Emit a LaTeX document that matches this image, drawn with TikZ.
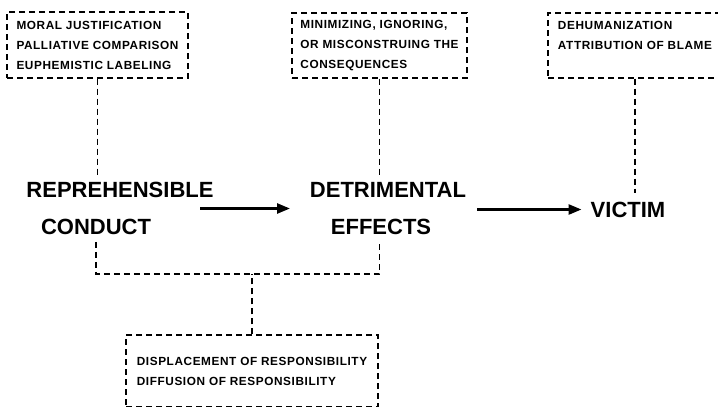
\documentclass[tikz,border=0pt]{standalone}
\usepackage{fontspec}
\setmainfont{Liberation Sans}
\newfontfamily\boxfont[LetterSpace=5]{Liberation Sans}
\usetikzlibrary{arrows.meta}

\begin{document}
\begin{tikzpicture}[x=1pt,y=-1pt,
  note/.style={draw, dash pattern=on 6pt off 4pt, line width=1.2pt,
    align=left, inner sep=0pt,
    font=\boxfont\bfseries\fontsize{11.8}{20}\selectfont},
  term/.style={inner sep=0pt, font=\bfseries\fontsize{22}{22}\selectfont},
  link/.style={dash pattern=on 6pt off 4pt, line width=1.2pt},
  flow/.style={-{Triangle[length=13pt,width=10pt]}, line width=2.6pt}]
\useasboundingbox (0,0) rectangle (718,407);
\clip (0,0) rectangle (718,407);

% mechanisms acting on each stage
\node[note, minimum width=181pt, minimum height=66pt] (just) at (97.5,45)
  {MORAL JUSTIFICATION\\PALLIATIVE COMPARISON\\EUPHEMISTIC LABELING};
\node[note, minimum width=175pt, minimum height=65pt] (harm) at (379.5,45.5)
  {MINIMIZING, IGNORING,\\OR MISCONSTRUING THE\\CONSEQUENCES};
\node[note, minimum width=174pt, minimum height=65pt] (blame) at (635,45.5)
  {DEHUMANIZATION\\ATTRIBUTION OF BLAME\\\mbox{}};
\node[note, minimum width=252pt, minimum height=72pt] (resp) at (252,371)
  {DISPLACEMENT OF RESPONSIBILITY\\DIFFUSION OF RESPONSIBILITY};

% the three stages
\node[term] (repr) at (120,190) {REPREHENSIBLE};
\node[term] (cond) at (96,227) {CONDUCT};
\node[term] (detr) at (388,190) {DETRIMENTAL};
\node[term] (eff)  at (381,227) {EFFECTS};
\node[term] (vict) at (628,210) {VICTIM};

% flow between stages
\coordinate (a1s) at (200,208.5);
\coordinate (a1e) at (290,208.5);
\coordinate (a2s) at (477,209.5);
\draw[flow] (a1s) -- (a1e);
\draw[flow, shorten >=9pt] (a2s) -- (a2s -| vict.west);

% dashed links from the mechanisms
\draw[link] (just.south) -- ([yshift=5pt]just.south |- repr.north);
\draw[link] (harm.south) -- ([yshift=5pt]harm.south |- detr.north);
\draw[link] (blame.south) -- ([yshift=9pt]blame.south |- vict.north);

\coordinate (hl) at (0,274);
\draw[link] ([yshift=-7pt]cond.south) -- (cond.south |- hl)
  -- (harm.south |- hl) -- ([yshift=-7pt]harm.south |- eff.south);
\draw[link] (resp.north) -- (resp.north |- hl);
\end{tikzpicture}
\end{document}
